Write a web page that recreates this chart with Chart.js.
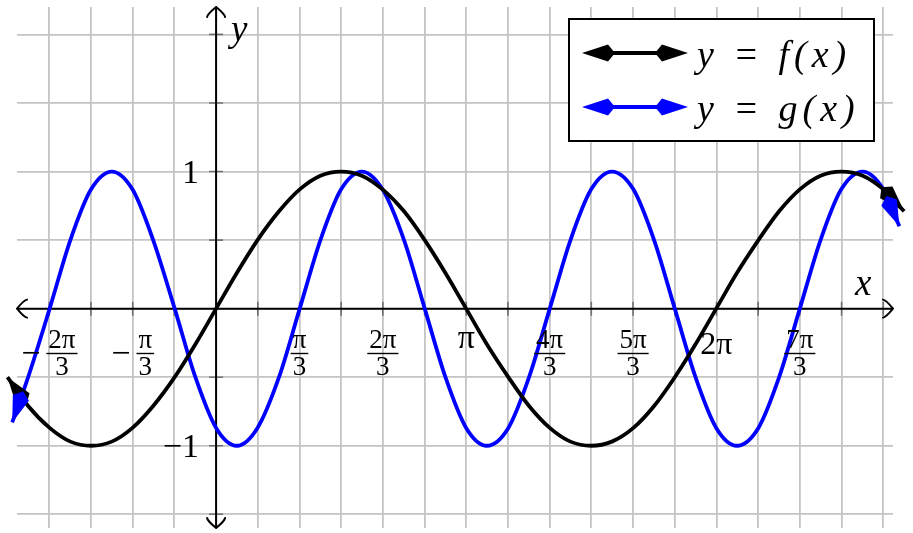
<!DOCTYPE html>
<html><head><meta charset="utf-8">
<script src="https://cdn.jsdelivr.net/npm/chart.js@4.4.1/dist/chart.umd.min.js"></script>
<style>html,body{margin:0;padding:0;background:#fff;overflow:hidden}#c{display:block}</style>
</head><body>
<canvas id="c" width="913" height="533" style="width:913px;height:533px"></canvas>
<script>
// ---- data ----
const seriesNames = ['y = f(x)', 'y = g(x)'];
const fXs = [-2.62,-2.36,-2.09,-1.83,-1.57,-1.31,-1.05,-0.79,-0.52,-0.26,0,0.26,0.52,0.79,1.05,1.31,1.57,1.83,2.09,2.36,2.62,2.88,3.14,3.40,3.67,3.93,4.19,4.45,4.71,4.97,5.24,5.50,5.76,6.02,6.28,6.54,6.81,7.07,7.33,7.59,7.85,8.12,8.38,8.64];
const fYs = [-0.5,-0.71,-0.87,-0.97,-1,-0.97,-0.87,-0.71,-0.5,-0.26,0,0.26,0.5,0.71,0.87,0.97,1,0.97,0.87,0.71,0.5,0.26,0,-0.26,-0.5,-0.71,-0.87,-0.97,-1,-0.97,-0.87,-0.71,-0.5,-0.26,0,0.26,0.5,0.71,0.87,0.97,1,0.97,0.87,0.71];
const gXs = [-2.56,-2.36,-2.09,-1.83,-1.57,-1.31,-1.05,-0.79,-0.52,-0.26,0,0.26,0.52,0.79,1.05,1.31,1.57,1.83,2.09,2.36,2.62,2.88,3.14,3.40,3.67,3.93,4.19,4.45,4.71,4.97,5.24,5.50,5.76,6.02,6.28,6.54,6.81,7.07,7.33,7.59,7.85,8.12,8.38,8.58];
const gYs = [-0.83,-0.5,0,0.5,0.87,1,0.87,0.5,0,-0.5,-0.87,-1,-0.87,-0.5,0,0.5,0.87,1,0.87,0.5,0,-0.5,-0.87,-1,-0.87,-0.5,0,0.5,0.87,1,0.87,0.5,0,-0.5,-0.87,-1,-0.87,-0.5,0,0.5,0.87,1,0.87,0.6];
const xGridValues = [-2.094,-1.571,-1.047,-0.524,0,0.524,1.047,1.571,2.094,2.618,3.142,3.665,4.189,4.712,5.236,5.760,6.283,6.807,7.330,7.854,8.378];
const yGridValues = [-1.5,-1,-0.5,0,0.5,1,1.5,2];
const xLabelValues = [-2.094,-1.047,1.047,2.094,3.142,4.189,5.236,6.283,7.330];
const xLabelTexts = ['−2π/3','−π/3','π/3','2π/3','π','4π/3','5π/3','2π','7π/3'];
const yLabelValues = [1,-1];
const yLabelTexts = ['1','−1'];
const xAxisName = 'x', yAxisName = 'y';

// ---- styling ----
const SERIF = '"Liberation Serif", "DejaVu Serif", serif';
const COLORS = ['#000000', '#0000ff'];

function kite(ctx, tx, ty, dx, dy, color) {
  const L = 33, W = 26, H = 8.5, px = -dy, py = dx;
  ctx.beginPath();
  ctx.moveTo(tx, ty);
  ctx.lineTo(tx - dx*W + px*H, ty - dy*W + py*H);
  ctx.lineTo(tx - dx*L, ty - dy*L);
  ctx.lineTo(tx - dx*W - px*H, ty - dy*W - py*H);
  ctx.closePath();
  ctx.fillStyle = color; ctx.fill();
}
function chevron(ctx, tx, ty, dx, dy) {
  const L = 10, H = 9, px = -dy, py = dx;
  ctx.beginPath();
  for (const s of [1, -1]) {
    ctx.moveTo(tx - dx*L + s*px*H, ty - dy*L + s*py*H);
    ctx.quadraticCurveTo(tx - dx*L*0.7 + s*px*H*0.95, ty - dy*L*0.7 + s*py*H*0.95, tx, ty);
  }
  ctx.strokeStyle = '#000'; ctx.lineWidth = 2; ctx.lineCap = 'round'; ctx.stroke();
}

function drawXLabel(ctx, cx, text) {
  const neg = text.startsWith('−');
  const body = neg ? text.slice(1) : text;
  ctx.fillStyle = '#000';
  if (body.includes('/')) {
    const [num, den] = body.split('/');
    const FR = 27, MS = 34, BAR = 353.5;
    ctx.font = FR + 'px ' + SERIF;
    const bw = Math.max(ctx.measureText(num).width, ctx.measureText(den).width) + 4;
    ctx.font = MS + 'px ' + SERIF;
    const mw = neg ? ctx.measureText('−').width + 6 : 0;
    const x0 = cx - (mw + bw) / 2;
    if (neg) { ctx.textAlign = 'left'; ctx.fillText('−', x0, BAR + 0.3*MS); }
    const fx = x0 + mw + bw / 2;
    ctx.fillRect(fx - bw/2, BAR - 0.7, bw, 1.4);
    ctx.font = FR + 'px ' + SERIF; ctx.textAlign = 'center';
    ctx.fillText(num, fx, 348);
    ctx.fillText(den, fx, 375);
  } else {
    const big = body.length === 1;
    ctx.font = (big ? 34 : 32) + 'px ' + SERIF;
    ctx.textAlign = 'center';
    ctx.fillText(text, cx, big ? 348 : 354);
  }
}

const axesPlugin = {
  id: 'midAxes',
  beforeDatasetsDraw(chart) {
    const ctx = chart.ctx, xs = chart.scales.x, ys = chart.scales.y, a = chart.chartArea;
    const x0 = xs.getPixelForValue(0), y0 = ys.getPixelForValue(0);
    ctx.save();
    ctx.strokeStyle = 'rgba(0,0,0,0.45)'; ctx.lineWidth = 1.6;
    ctx.beginPath();
    for (const v of xGridValues) { if (v === 0) continue; const p = xs.getPixelForValue(v); ctx.moveTo(p, y0 - 7); ctx.lineTo(p, y0 + 7); }
    for (const v of yGridValues) { if (v === 0) continue; const p = ys.getPixelForValue(v); ctx.moveTo(x0 - 7, p); ctx.lineTo(x0 + 7, p); }
    ctx.stroke();
    ctx.strokeStyle = '#000'; ctx.lineWidth = 2;
    ctx.beginPath();
    ctx.moveTo(a.left + 1, y0); ctx.lineTo(a.right - 1, y0);
    ctx.moveTo(x0, a.bottom - 1); ctx.lineTo(x0, a.top + 1);
    ctx.stroke();
    chevron(ctx, a.right, y0, 1, 0);
    chevron(ctx, a.left, y0, -1, 0);
    chevron(ctx, x0, a.top, 0, -1);
    chevron(ctx, x0, a.bottom, 0, 1);
    ctx.restore();
  },
  afterDatasetsDraw(chart) {
    const ctx = chart.ctx, xs = chart.scales.x, ys = chart.scales.y;
    ctx.save();
    chart.data.datasets.forEach((ds, i) => {
      const pts = chart.getDatasetMeta(i).data;
      const ends = [[pts[pts.length-1], pts[pts.length-2]], [pts[0], pts[1]]];
      for (const [p, q] of ends) {
        let dx = p.x - q.x, dy = p.y - q.y; const n = Math.hypot(dx, dy); dx /= n; dy /= n;
        kite(ctx, p.x, p.y, dx, dy, COLORS[i]);
      }
    });
    ctx.textBaseline = 'alphabetic';
    xLabelValues.forEach((v, i) => drawXLabel(ctx, xs.getPixelForValue(v), xLabelTexts[i]));
    ctx.font = '34px ' + SERIF; ctx.textAlign = 'right'; ctx.fillStyle = '#000';
    yLabelValues.forEach((v, i) => ctx.fillText(yLabelTexts[i], 199, ys.getPixelForValue(v) + 11));
    ctx.font = 'italic 37px ' + SERIF; ctx.textAlign = 'left';
    ctx.fillText(yAxisName, 231, 41);
    ctx.fillText(xAxisName, 855, 295);
    // legend
    const L = {x: 568, y: 18, w: 307, h: 124};
    ctx.fillStyle = '#fff'; ctx.fillRect(L.x, L.y, L.w, L.h);
    ctx.strokeStyle = '#000'; ctx.lineWidth = 2; ctx.strokeRect(L.x + 1, L.y + 1, L.w - 2, L.h - 2);
    seriesNames.forEach((name, i) => {
      const yy = 53 + i * 54;
      ctx.strokeStyle = COLORS[i]; ctx.lineWidth = 4;
      ctx.beginPath(); ctx.moveTo(600, yy); ctx.lineTo(670, yy); ctx.stroke();
      kite(ctx, 582, yy, -1, 0, COLORS[i]);
      kite(ctx, 688, yy, 1, 0, COLORS[i]);
      ctx.fillStyle = '#000'; ctx.font = 'italic 38px ' + SERIF; ctx.textAlign = 'left';
      ctx.letterSpacing = '5px';
      ctx.fillText(name, 697, yy + 14);
      ctx.letterSpacing = '0px';
    });
    ctx.restore();
  }
};

const gridOpts = { color: '#c4c4c4', lineWidth: 1.8, drawTicks: false };
new Chart(document.getElementById('c'), {
  type: 'line',
  data: {
    datasets: [
      { label: seriesNames[0], data: fXs.map((x, i) => ({x, y: fYs[i]})), borderColor: COLORS[0], borderWidth: 3.8, pointRadius: 0, cubicInterpolationMode: 'monotone', clip: false, fill: false },
      { label: seriesNames[1], data: gXs.map((x, i) => ({x, y: gYs[i]})), borderColor: COLORS[1], borderWidth: 3.8, pointRadius: 0, cubicInterpolationMode: 'monotone', clip: false, fill: false }
    ]
  },
  options: {
    responsive: false, animation: false, devicePixelRatio: 1,
    layout: { padding: { left: 17, right: 20, top: 7, bottom: 5 } },
    plugins: { legend: { display: false }, tooltip: { enabled: false } },
    scales: {
      x: { type: 'linear', min: -2.5, max: 8.5, afterBuildTicks: s => { s.ticks = xGridValues.map(v => ({value: v})); },
           ticks: { display: false }, grid: gridOpts, border: { display: false } },
      y: { type: 'linear', min: -1.6, max: 2.2, afterBuildTicks: s => { s.ticks = yGridValues.map(v => ({value: v})); },
           ticks: { display: false }, grid: gridOpts, border: { display: false } }
    }
  },
  plugins: [axesPlugin]
});
</script>
</body></html>
